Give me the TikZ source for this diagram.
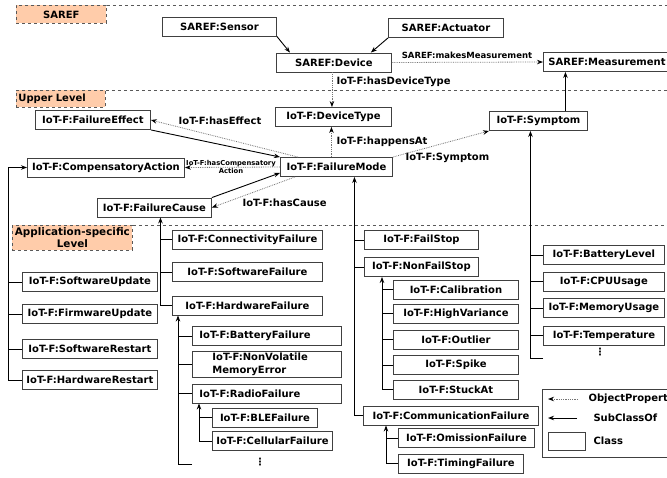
\documentclass[tikz,border=0pt]{standalone}
\usepackage{fontspec}
\setmainfont{DejaVu Sans}
\usetikzlibrary{arrows.meta}
\definecolor{lanefill}{RGB}{255,204,170}
\tikzset{
	cls/.style={draw=black!75, line width=0.9pt, fill=white, font=\bfseries, minimum height=19pt, inner sep=2pt, anchor=west},
	lane/.style={draw=black!65, dashed, line width=0.8pt, fill=lanefill, font=\bfseries, anchor=north west, inner sep=2pt},
	lanerule/.style={draw=black!65, dashed, line width=0.7pt},
	subcls/.style={draw=black, line width=0.9pt, -{Stealth[length=6pt,width=4.5pt]}},
	branch/.style={draw=black, line width=0.9pt},
	objprop/.style={draw=black!55, densely dotted, line width=0.8pt, -{Stealth[length=6pt,width=4.5pt,color=black]}},
	lbl/.style={font=\bfseries},
}
\begin{document}
\begin{tikzpicture}[x=1pt, y=-1pt]
	\useasboundingbox (0,0) rectangle (667,477);
	\coordinate (rim) at (667,0);
	
	%levels
	\node[lane, minimum width=90pt, minimum height=18pt] (saref) at (16,5) {SAREF};
	\node[lane, text width=85pt, align=left, minimum height=17pt] (upper) at (16,90) {Upper Level};
	\node[lane, text width=116pt, align=center, font=\fontsize{10.4}{12.5}\selectfont\bfseries] (app) at (12,225) {Application-specific\\Level};
	\draw[lanerule] (saref.north east) -- (saref.north east -| rim);
	\draw[lanerule] (upper.north east) -- (upper.north east -| rim);
	\draw[lanerule] (app.north east) -- (app.north east -| rim);
	
	%saref
	\node[cls, minimum width=114pt] (sensor) at (162,26.5) {SAREF:Sensor};
	\node[cls, minimum width=115pt] (dev) at (276,62.5) {SAREF:Device};
	\node[cls, minimum width=115pt] (act) at (388,28) {SAREF:Actuator};
	\node[cls, inner xsep=5pt] (meas) at (543,62) {SAREF:Measurement};
	\draw[subcls] (sensor.south east) -- ([xshift=14pt]dev.north west);
	\draw[subcls] (act.south west) -- ([xshift=-21pt]dev.north east);
	\draw[objprop] (dev.east) -- (meas.west);
	\node[lbl, font=\fontsize{8.5}{10}\selectfont\bfseries] (mm) at (467,55) {SAREF:makesMeasurement};
	
	%upper level
	\node[cls, minimum width=115pt] (fe) at (35,120) {IoT-F:FailureEffect};
	\node[cls, minimum width=116pt] (dt) at (275,117) {IoT-F:DeviceType};
	\node[cls, minimum width=98pt] (sym) at (489,121) {IoT-F:Symptom};
	\node[cls, minimum width=157pt] (ca) at (27,167.5) {IoT-F:CompensatoryAction};
	\node[cls, minimum width=112pt] (fm) at (280,167) {IoT-F:FailureMode};
	\node[cls, minimum width=114pt] (fc) at (97,207.5) {IoT-F:FailureCause};
	
	\draw[objprop] ([xshift=-2pt]dev.south) -- ([xshift=-2pt]dev.south |- dt.north);
	\node[lbl, anchor=west] (hdt) at (333,82) {IoT-F:hasDeviceType};
	\draw[objprop] ([xshift=-2pt]dt.south |- fm.north) -- ([xshift=-2pt]dt.south);
	\node[lbl, anchor=west] (ha) at (333,142) {IoT-F:happensAt};
	\draw[objprop] ([xshift=18pt]fm.north west) -- (fe.east);
	\node[lbl] (he) at (220,121) {IoT-F:hasEffect};
	\draw[subcls] (fe.south east) -- (fm.north west);
	\draw[objprop] (fm.west) -- (ca.east);
	\node[lbl, align=center, font=\fontsize{6.8}{7.8}\selectfont\bfseries] (hca) at (231,167) {IoT-F:hasCompensatory\\Action};
	\draw[subcls] (fc.north east) -- ([yshift=4pt]fm.south west);
	\draw[objprop] ([xshift=15pt]fm.south west) -- (fc.east);
	\node[lbl, anchor=west] (hc) at (239,203) {IoT-F:hasCause};
	\draw[objprop] (fm.north east) -- (sym.south west);
	\node[lbl, anchor=west] (hs) at (402,158) {IoT-F:Symptom};
	\draw[subcls] ([xshift=27pt]sym.north) -- ([xshift=27pt]sym.north |- meas.south);
	
	%compensatory actions
	\foreach \n/\t/\y in {su/SoftwareUpdate/282, fw/FirmwareUpdate/314, sr/SoftwareRestart/349, hr/HardwareRestart/380}{
		\node[cls, minimum width=135pt] (\n) at (22,\y) {IoT-F:\t};
	}
	\draw[subcls] (hr.west) -- ++(-14,0) |- (ca.west);
	\foreach \n in {su,fw,sr}{
		\draw[branch] (\n.west) -- ++(-14,0);
	}
	
	%failure causes
	\foreach \n/\t/\y in {conn/ConnectivityFailure/239.5, swf/SoftwareFailure/272, hw/HardwareFailure/305.5}{
		\node[cls, minimum width=150pt] (\n) at (172,\y) {IoT-F:\t};
	}
	\draw[subcls] (hw.west) -| ([xshift=6pt]fc.south);
	\foreach \n in {conn,swf}{
		\draw[branch] (\n.west) -- ++(-12,0);
	}
	
	\node[cls, text width=135pt, align=left, inner xsep=7pt] (bf) at (192,336) {IoT-F:BatteryFailure};
	\node[cls, text width=109pt, align=left, inner xsep=20pt, font=\fontsize{10}{13}\selectfont\bfseries] (nv) at (192,364.5) {IoT-F:NonVolatile\\MemoryError};
	\node[cls, text width=135pt, align=left, inner xsep=7pt] (rf) at (192,393.5) {IoT-F:RadioFailure};
	\coordinate (hwmore) at (192,464);
	\draw[subcls] (hwmore) -| ([xshift=6pt]hw.south west);
	\foreach \n in {bf,nv,rf}{
		\draw[branch] (\n.west) -- ++(-14,0);
	}
	\node[font=\bfseries] (hwdots) at (260,462) {⋮};
	
	\node[cls, minimum width=105pt] (ble) at (212,417.5) {IoT-F:BLEFailure};
	\node[cls, minimum width=120pt] (cell) at (212,441) {IoT-F:CellularFailure};
	\draw[subcls] (cell.west) -| ([xshift=7pt]rf.south west);
	\draw[branch] (ble.west) -- ++(-13,0);
	
	%failure modes
	\node[cls, minimum width=114pt] (fs) at (364,240) {IoT-F:FailStop};
	\node[cls, minimum width=114pt] (nfs) at (364,267) {IoT-F:NonFailStop};
	\node[cls, minimum width=175pt] (comm) at (363,415.5) {IoT-F:CommunicationFailure};
	\draw[subcls] (comm.west) -| ([xshift=18pt]fm.south);
	\foreach \n in {fs,nfs}{
		\draw[branch] (\n.west) -- ++(-10,0);
	}
	
	\foreach \n/\t/\y in {cal/Calibration/289.5, hv/HighVariance/313.5, outl/Outlier/339.5, spk/Spike/365, stk/StuckAt/389.5}{
		\node[cls, minimum width=125pt] (\n) at (393,\y) {IoT-F:\t};
	}
	\draw[subcls] (stk.west) -| ([xshift=18pt]nfs.south west);
	\foreach \n in {cal,hv,outl,spk}{
		\draw[branch] (\n.west) -- ++(-11,0);
	}
	
	\node[cls, minimum width=136pt] (om) at (398,438) {IoT-F:OmissionFailure};
	\node[cls, minimum width=125pt] (tim) at (398,463.5) {IoT-F:TimingFailure};
	\draw[subcls] (tim.west) -| ([xshift=23pt]comm.south west);
	\draw[branch] (om.west) -- ++(-12,0);
	
	%symptoms
	\foreach \n/\t/\y in {bl/BatteryLevel/255, cpu/CPUUsage/281.5, mem/MemoryUsage/308, temp/Temperature/335.5}{
		\node[cls, minimum width=121pt] (\n) at (543,\y) {IoT-F:\t};
		\draw[branch] (\n.west) -- ++(-13,0);
	}
	\coordinate (symmore) at (543,358);
	\draw[subcls] (symmore) -| ([xshift=-8pt]sym.south);
	\node[font=\bfseries] (symdots) at (600,352) {⋮};
	
	%legend
	\node[draw=black!75, line width=0.9pt, fill=white, anchor=north west, minimum width=150pt, minimum height=68pt] (legend) at (542,389) {};
	\coordinate (op1) at (578,399);
	\coordinate (op2) at (548,399);
	\draw[objprop] (op1) -- (op2);
	\node[lbl, anchor=west] (optext) at (585,399) {ObjectProperty};
	\coordinate (sc1) at (577,418);
	\coordinate (sc2) at (548,418);
	\draw[subcls] (sc1) -- (sc2);
	\node[lbl, anchor=west] (sctext) at (590,418) {SubClassOf};
	\node[draw=black!75, line width=0.9pt, anchor=west, minimum width=37pt, minimum height=18pt] (clsbox) at (548,441) {};
	\node[lbl, anchor=west] (clstext) at (590,441) {Class};
\end{tikzpicture}
\end{document}
